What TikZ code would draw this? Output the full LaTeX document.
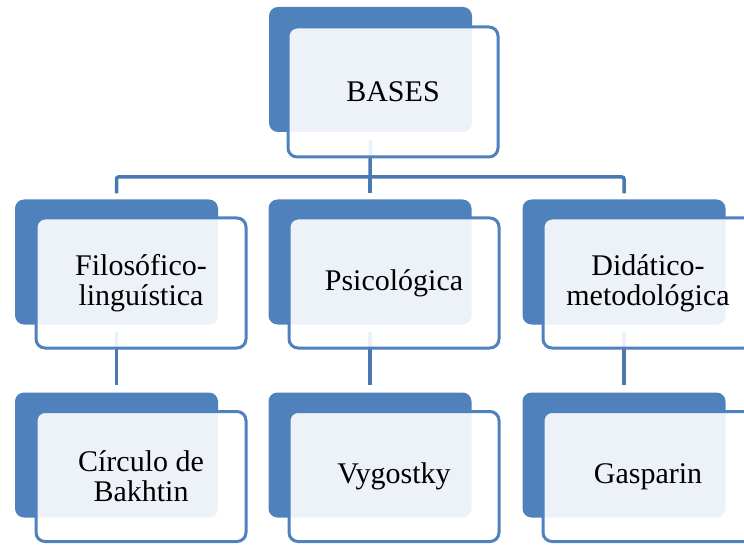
\documentclass[tikz,border=0pt]{standalone}
\usepackage{fontspec}
\setmainfont{Liberation Serif}
\definecolor{basesblue}{HTML}{4F81BD}
\definecolor{linkblue}{HTML}{4A78B2}
\begin{document}
\begin{tikzpicture}[x=1pt,y=-1pt,
    back node/.style={rectangle,rounded corners=9pt,fill=basesblue,minimum width=203pt,minimum height=125pt},
    main node/.style={rectangle,rounded corners=9pt,draw=basesblue,line width=3pt,fill=white,fill opacity=0.9,text opacity=1,minimum width=210pt,minimum height=130pt,align=center,font=\fontsize{30}{30}\selectfont},
    link/.style={draw=linkblue,line width=3.5pt,rounded corners=2pt}]
        \useasboundingbox (0,0) rectangle (744,545);

        \node[back node] at (370.5, 69.5) (basesback) {};
        \node[back node] at (116.5, 262) (filoback) {};
        \node[back node] at (370, 262) (psicoback) {};
        \node[back node] at (624, 262) (didaback) {};
        \node[back node] at (116.5, 455) (circback) {};
        \node[back node] at (370, 455) (vygoback) {};
        \node[back node] at (624, 455) (gaspback) {};

        \coordinate (fork) at (370, 177);
        \draw[link] ([yshift=-8pt]basesback.south) -- (fork);
        \draw[link] ([yshift=6pt]filoback.north) |- (fork) -| ([yshift=6pt]didaback.north);
        \draw[link] (fork) -- ([yshift=6pt]psicoback.north);
        \draw[link] ([yshift=-7pt]filoback.south) -- ([yshift=7pt]circback.north);
        \draw[link] ([yshift=-7pt]psicoback.south) -- ([yshift=7pt]vygoback.north);
        \draw[link] ([yshift=-7pt]didaback.south) -- ([yshift=7pt]gaspback.north);

        \node[main node] at (393, 92) (bases) {BASES};
        \node[main node] at (141, 283) (filo) {Filosófico-\\linguística};
        \node[main node] at (394, 283) (psico) {Psicológica};
        \node[main node] at (648, 283) (dida) {Didático-\\metodológica};
        \node[main node] at (141, 476.5) (circ) {Círculo de\\Bakhtin};
        \node[main node] at (394, 476.5) (vygo) {Vygostky};
        \node[main node] at (648, 476.5) (gasp) {Gasparin};
\end{tikzpicture}
\end{document}
